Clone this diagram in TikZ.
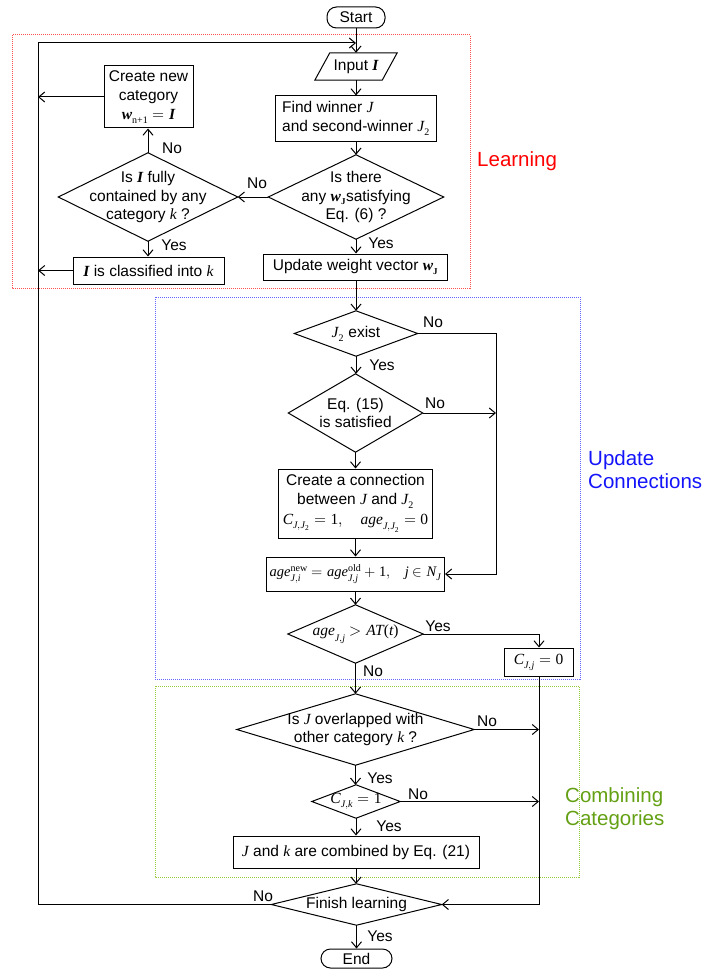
\documentclass[tikz,border=0pt]{standalone}
\usepackage{fontspec}
\usepackage{unicode-math}
\setmainfont{Liberation Sans}
\newfontfamily\tms{Liberation Serif}
\usetikzlibrary{arrows.meta,calc}
\newcommand\mainsz{\fontsize{15.5}{18.8}\selectfont}
\newcommand\bigsz{\fontsize{20.5}{23}\selectfont}
\newcommand\Vi[1]{\mbox{\tms\itshape #1}}
\newcommand\Vb[1]{\mbox{\tms\bfseries\itshape #1}}
\newcommand\Vn[1]{\mbox{\tms #1}}
\newcommand\Vs[1]{\mbox{\tms\itshape\fontsize{10}{10}\selectfont #1}}
\newcommand\Vr[1]{\mbox{\tms\fontsize{10}{10}\selectfont #1}}
\newcommand\Vrb[1]{\mbox{\tms\bfseries\fontsize{9}{9}\selectfont #1}}
\newcommand\Vss[1]{\mbox{\tms\fontsize{7.5}{7.5}\selectfont #1}}
\definecolor{lred}{RGB}{255,0,0}
\definecolor{lblue}{RGB}{20,20,250}
\definecolor{lgreen}{RGB}{100,160,20}
\definecolor{dred}{RGB}{255,80,80}
\definecolor{dblue}{RGB}{100,100,255}
\definecolor{dgreen}{RGB}{150,200,60}
\tikzset{
  box/.style={draw, rectangle, inner sep=0pt, align=center, line width=1pt, font=\mainsz},
  dia/.style={rectangle, inner sep=0pt, align=center, font=\mainsz},
  term/.style={draw, rectangle, rounded corners=9.5pt, inner sep=0pt, font=\mainsz, line width=1pt},
  lbl/.style={inner sep=0pt, font=\mainsz},
  conn/.style={line width=1pt, black},
  arr/.style={conn, -{Straight Barb[length=6pt,width=10pt,line width=1pt]}},
  region/.style={line width=1pt, dash pattern=on 1pt off 1pt},
}
\begin{document}
\begin{tikzpicture}[x=1pt,y=-1pt]
\useasboundingbox (0,0) rectangle (702,971);
% regions
\draw[region, dred] (12,35) rectangle (470,288);
\draw[region, dblue] (155,297) rectangle (580,679);
\draw[region, dgreen] (155,686) rectangle (579,877);
\node[anchor=west, inner sep=0pt, font=\bigsz, text=lred] (tlearn) at (477,161) {Learning};
\node[anchor=west, inner sep=0pt, font=\bigsz, text=lblue, align=left] (tupd) at (588,470) {Update\\Connections};
\node[anchor=west, inner sep=0pt, font=\bigsz, text=lgreen, align=left] (tcomb) at (565,809) {Combining\\Categories};

% nodes
\node[term, minimum width=58pt, minimum height=21pt] (start) at (356,17.5) {Start};
\node[dia, minimum width=67pt, minimum height=27pt] (input) at (356,66.5) {Input $\Vb{I}$};
\draw[line width=1pt] ($(input.south west)+(-7.5,0)$) -- ($(input.north west)+(7.5,0)$) -- ($(input.north east)+(7.5,0)$) -- ($(input.south east)+(-7.5,0)$) -- cycle;
\node[box, minimum width=161pt, minimum height=45pt, align=left] (find) at (356,118.5) {Find winner $\Vi{J}$\\and second-winner $\Vi{J}_{\Vr{2}}$};
\node[dia, minimum width=175pt, minimum height=84pt] (d1) at (356,197) {Is there\\any $\Vb{w}_{\Vrb{J}}$satisfying\\Eq. (6) ?};
\node[dia, minimum width=179pt, minimum height=88pt] (d2) at (148,197) {Is $\Vb{I}$ fully\\contained by any\\category $\Vi{k}$ ?};
\node[box, minimum width=89pt, minimum height=62pt] (create) at (148.5,97) {Create new\\category\\$\Vb{w}_{\Vr{n+1}}=\Vb{I}$};
\node[box, minimum width=151pt, minimum height=27pt] (classified) at (148.5,270.5) {$\Vb{I}$ is classified into $\Vi{k}$};
\node[box, minimum width=184pt, minimum height=26pt] (update) at (355.5,267) {Update weight vector $\Vb{w}_{\Vrb{J}}$};
\node[dia, minimum width=123pt, minimum height=45pt] (j2) at (356,333.5) {$\Vi{J}_{\Vr{2}}$ exist};
\node[dia, minimum width=134pt, minimum height=78pt] (eq15) at (355.5,413) {Eq. (15)\\is satisfied};
\node[box, minimum width=154pt, minimum height=69pt] (cconn) at (355.5,503.5) {Create a connection\\between $\Vi{J}$ and $\Vi{J}_{\Vr{2}}$\\[1pt]$\Vi{C}_{\Vs{J},\Vs{J}_{\Vss{2}}}=\Vn{1},\quad \Vi{age}_{\Vs{J},\Vs{J}_{\Vss{2}}}=\Vn{0}$};
\node[box, minimum width=178pt, minimum height=34pt, font=\fontsize{14.5}{17}\selectfont] (age) at (355.5,574) {$\Vi{age}^{\Vr{new}}_{\Vs{J},\Vs{i}}=\Vi{age}^{\Vr{old}}_{\Vs{J},\Vs{j}}+\Vn{1},\;\;\; \Vi{j}\in \Vi{N}_{\Vs{J}}$};
\node[dia, minimum width=135pt, minimum height=58pt] (agedia) at (355.5,634) {$\Vi{age}_{\Vs{J},\Vs{j}}>\Vi{AT}\Vn{(}\Vi{t}\Vn{)}$};
\node[box, minimum width=69pt, minimum height=28pt] (cbox) at (538.5,662) {$\Vi{C}_{\Vs{J},\Vs{j}}=\Vn{0}$};
\node[dia, minimum width=237pt, minimum height=71pt] (overlap) at (355.5,729.5) {Is $\Vi{J}$ overlapped with\\other category $\Vi{k}$ ?};
\node[dia, minimum width=88pt, minimum height=33pt] (cdia) at (356,801.5) {$\Vi{C}_{\Vs{J},\Vs{k}}=\Vn{1}$};
\node[box, minimum width=246pt, minimum height=32pt] (comb) at (356,852) {$\Vi{J}$ and $\Vi{k}$ are combined by Eq. (21)};
\node[dia, minimum width=170pt, minimum height=41pt] (finish) at (356.5,904.5) {Finish learning};
\node[term, minimum width=71pt, minimum height=19pt] (end) at (356.5,958.5) {End};

\foreach \n in {d1,d2,j2,eq15,agedia,overlap,cdia,finish}
  \draw[line width=1pt] (\n.north) -- (\n.east) -- (\n.south) -- (\n.west) -- cycle;

% helper coordinates
\coordinate (jt) at (356,43);
\coordinate (lx) at (38,43);
\coordinate (rx) at (496,333.5);
\coordinate (cx) at (539,634);

% connectors
\draw[arr] (start.south) -- (start.south |- input.north);
\draw[arr] (input.south) -- (input.south |- find.north);
\draw[arr] (find.south) -- (find.south |- d1.north);
\draw[arr] (d1.west) -- (d2.east);
\draw[arr] (d2.north) -- (d2.north |- create.south);
\draw[arr] (create.west) -- (lx |- create.west);
\draw[arr] (d2.south) -- (d2.south |- classified.north);
\draw[arr] (classified.west) -- (lx |- classified.west);
\draw[arr] (d1.south) -- (d1.south |- update.north);
\draw[arr] (update.south -| j2.north) -- (j2.north);
\draw[arr] (j2.east) -- (rx) -- (rx |- age.east) -- (age.east);
\draw[arr] (j2.south) -- (j2.south |- eq15.north);
\draw[arr] (eq15.east) -- (rx |- eq15.east);
\draw[arr] (eq15.south) -- (eq15.south |- cconn.north);
\draw[arr] (cconn.south) -- (cconn.south |- age.north);
\draw[arr] (age.south) -- (age.south |- agedia.north);
\draw[arr] (agedia.east) -- (cx) -- (cx |- cbox.north);
\draw[arr] (agedia.south) -- (agedia.south |- overlap.north);
\draw[arr] (cbox.south -| cx) -- (cx |- finish.east) -- (finish.east);
\draw[arr] (overlap.east) -- (cx |- overlap.east);
\draw[arr] (overlap.south) -- (overlap.south |- cdia.north);
\draw[arr] (cdia.east) -- (cx |- cdia.east);
\draw[arr] (cdia.south) -- (cdia.south |- comb.north);
\draw[arr] (comb.south) -- (comb.south |- finish.north);
\draw[arr] (finish.south) -- (finish.south |- end.north);
\draw[arr] (finish.west) -- (lx |- finish.west) -- (lx) -- (jt);

% labels
\node[lbl] (n1) at (257,183) {No};
\node[lbl] (n2) at (172,148) {No};
\node[lbl] (y1) at (174,245) {Yes};
\node[lbl] (y2) at (381,243) {Yes};
\node[lbl] (n3) at (433,322) {No};
\node[lbl] (y3) at (382,365) {Yes};
\node[lbl] (n4) at (435,403) {No};
\node[lbl] (y4) at (438,626) {Yes};
\node[lbl] (n5) at (373,671) {No};
\node[lbl] (n6) at (487,721) {No};
\node[lbl] (y5) at (380,778) {Yes};
\node[lbl] (n7) at (418,794) {No};
\node[lbl] (y6) at (389,826) {Yes};
\node[lbl] (n8) at (263,896) {No};
\node[lbl] (y7) at (380,936) {Yes};
\end{tikzpicture}
\end{document}
